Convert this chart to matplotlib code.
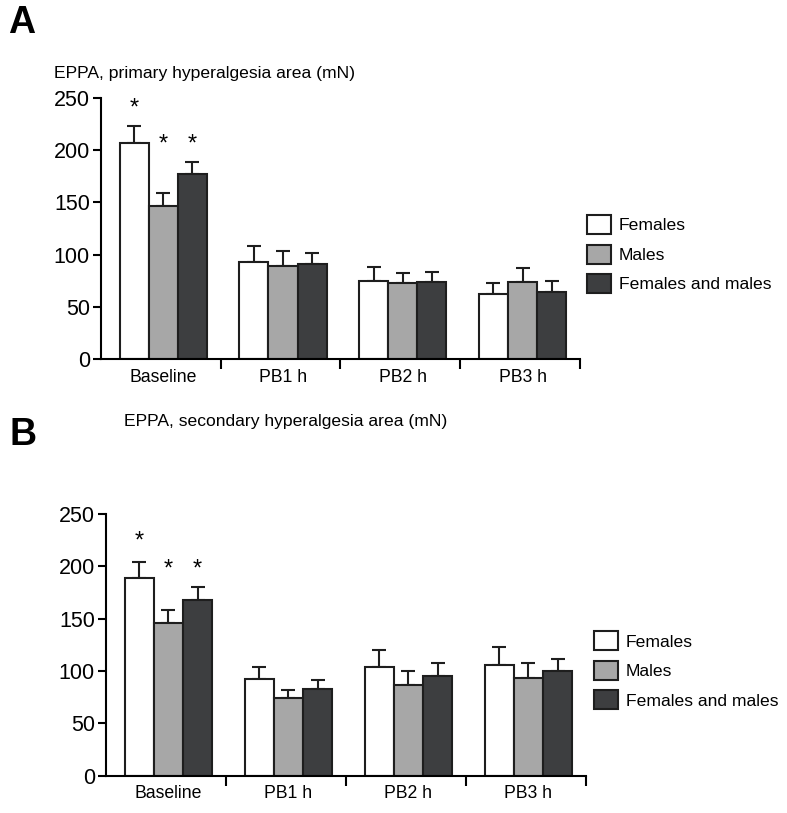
import numpy as np
import matplotlib
matplotlib.use("Agg")
import matplotlib.pyplot as plt
from matplotlib.patches import Patch

plt.rcParams['font.family'] = ['Liberation Sans', 'DejaVu Sans']

groups = ["Baseline", "PB1 h", "PB2 h", "PB3 h"]
series = ["Females", "Males", "Females and males"]
colors = ["#ffffff", "#a7a7a7", "#3d3e40"]

# panel A: primary hyperalgesia area
a_means = [[207, 93, 75, 62],
           [147, 89, 73, 74],
           [177, 91, 74, 64]]
a_errs = [[16, 15, 13, 11],
          [12, 14, 9, 13],
          [12, 11, 9, 11]]
a_stars = [(0, 0, 240), (0, 1, 205), (0, 2, 205)]

# panel B: secondary hyperalgesia area
b_means = [[189, 92, 104, 106],
           [146, 74, 87, 93],
           [168, 83, 95, 100]]
b_errs = [[15, 12, 16, 17],
          [12, 8, 13, 15],
          [12, 8, 13, 11]]
b_stars = [(0, 0, 224), (0, 1, 197), (0, 2, 197)]


def draw_panel(ax, means, errs, stars, title, title_xy, letter, letter_xy, leg_xy):
    x = np.arange(len(groups)) + 0.52
    w = 0.243
    for i in range(len(series)):
        xs = x + (i - 1) * w
        ax.bar(xs, means[i], width=w, color=colors[i], edgecolor="#1e1e1e",
               linewidth=1.5, label=series[i], zorder=2)
        ax.errorbar(xs, means[i], yerr=[np.zeros(len(groups)), errs[i]], fmt="none",
                    ecolor="#1e1e1e", elinewidth=1.5, capsize=5, capthick=1.5, zorder=1)
    for g, s, y in stars:
        ax.text(x[g] + (s - 1) * w, y, "*", ha="center", va="center", fontsize=17)
    ax.set_xlim(0, 4)
    ax.set_ylim(0, 250)
    ax.set_yticks([0, 50, 100, 150, 200, 250])
    ax.tick_params(axis="y", labelsize=15.5, length=6, width=1.5, pad=2)
    ax.set_xticks([1, 2, 3, 4])
    ax.set_xticklabels([])
    ax.tick_params(axis="x", which="major", length=7, width=1.5)
    ax.set_xticks(x, minor=True)
    ax.set_xticklabels(groups, minor=True)
    ax.tick_params(axis="x", which="minor", length=0, labelsize=12.7, pad=7)
    for sp in ["top", "right"]:
        ax.spines[sp].set_visible(False)
    for sp in ["left", "bottom"]:
        ax.spines[sp].set_linewidth(1.5)
    fig.text(title_xy[0], title_xy[1], title, fontsize=12.6, ha="left", va="center")
    fig.text(letter_xy[0], letter_xy[1], letter, fontsize=27, fontweight="bold",
             ha="left", va="center")
    handles = [Patch(facecolor=c, edgecolor="#1e1e1e", linewidth=1.5) for c in colors]
    fig.legend(handles, series, loc="upper left", bbox_to_anchor=leg_xy,
               frameon=False, fontsize=12.6, handlelength=1.35, handleheight=1.3,
               handletextpad=0.45, labelspacing=0.6)


fig = plt.figure(figsize=(7.87, 8.13), dpi=100)
axA = fig.add_axes([0.1283, 0.5584, 0.6087, 0.3211])
axB = fig.add_axes([0.1347, 0.0459, 0.6099, 0.3219])

draw_panel(axA, a_means, a_errs, a_stars, "EPPA, primary hyperalgesia area (mN)",
           (0.069, 0.910), "A", (0.010, 0.972), (0.726, 0.755))
draw_panel(axB, b_means, b_errs, b_stars, "EPPA, secondary hyperalgesia area (mN)",
           (0.157, 0.481), "B", (0.012, 0.465), (0.735, 0.243))

fig.savefig("out.png", dpi=100)
